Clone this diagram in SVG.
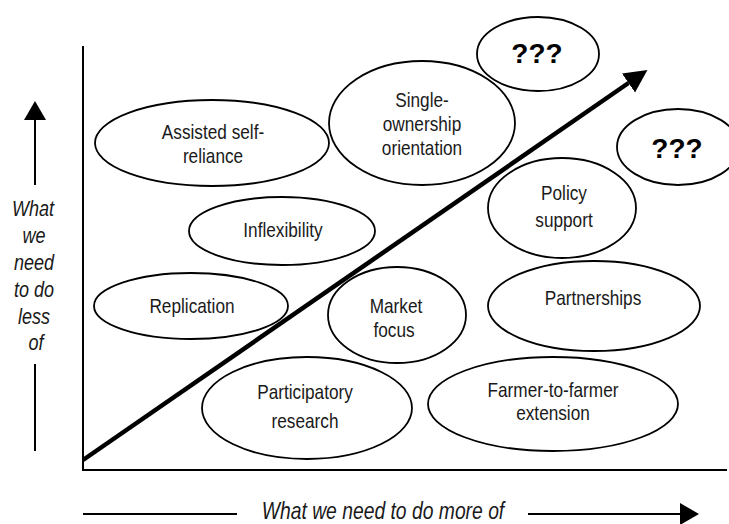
<svg xmlns="http://www.w3.org/2000/svg" width="729" height="524" viewBox="0 0 729 524">
  <style>
    .node ellipse { fill: #ffffff; stroke: #000000; stroke-width: 1.8; }
    .lbl { font-family: "Liberation Sans", Arial, sans-serif; font-size: 21px; fill: #1a1a1a; text-anchor: middle; }
    .q { font-family: "Liberation Sans", Arial, sans-serif; font-size: 28px; font-weight: bold; fill: #000000; text-anchor: middle; }
    .axis-lbl { font-family: "Liberation Sans", Arial, sans-serif; font-style: italic; fill: #1a1a1a; text-anchor: middle; }
    .axis { stroke: #000000; stroke-width: 2; fill: none; }
    .guide { stroke: #000000; stroke-width: 2; fill: none; }
    .trend { stroke: #000000; stroke-width: 4.5; fill: none; }
  </style>
  <defs>
    <marker id="headSmall" markerUnits="userSpaceOnUse" markerWidth="20" markerHeight="22" refX="0" refY="11" orient="auto">
      <path d="M0,0 L19,11 L0,22 z" fill="#000000"/>
    </marker>
    <marker id="headLarge" markerUnits="userSpaceOnUse" markerWidth="24" markerHeight="24" refX="0" refY="12" orient="auto">
      <path d="M0,0.5 L23,12 L0,23.5 z" fill="#000000"/>
    </marker>
  </defs>

  <rect width="729" height="524" fill="#ffffff"/>

  <!-- nodes (labels use a horizontally condensed sans) -->
  <g id="assisted-self-reliance" class="node">
    <ellipse cx="212" cy="143" rx="117" ry="43"/>
    <text class="lbl" transform="translate(213 139) scale(0.82 1)">Assisted self-</text>
    <text class="lbl" transform="translate(213 163) scale(0.82 1)">reliance</text>
  </g>
  <g id="inflexibility" class="node">
    <ellipse cx="282" cy="231" rx="93" ry="34"/>
    <text class="lbl" transform="translate(283 237) scale(0.82 1)">Inflexibility</text>
  </g>
  <g id="single-ownership" class="node">
    <ellipse cx="422" cy="123" rx="93" ry="62"/>
    <text class="lbl" transform="translate(422 107) scale(0.82 1)">Single-</text>
    <text class="lbl" transform="translate(422 131) scale(0.82 1)">ownership</text>
    <text class="lbl" transform="translate(422 155) scale(0.82 1)">orientation</text>
  </g>
  <g id="unknown-top" class="node">
    <ellipse cx="538" cy="54" rx="61" ry="37"/>
    <text class="q" x="537" y="63">???</text>
  </g>
  <g id="unknown-right" class="node">
    <ellipse cx="678" cy="147" rx="61" ry="38"/>
    <text class="q" x="677" y="158">???</text>
  </g>
  <g id="policy-support" class="node">
    <ellipse cx="562" cy="208" rx="74" ry="50"/>
    <text class="lbl" transform="translate(564 200) scale(0.82 1)">Policy</text>
    <text class="lbl" transform="translate(564 227) scale(0.82 1)">support</text>
  </g>
  <g id="replication" class="node">
    <ellipse cx="191" cy="306" rx="97" ry="33"/>
    <text class="lbl" transform="translate(192 313) scale(0.82 1)">Replication</text>
  </g>
  <g id="market-focus" class="node">
    <ellipse cx="397" cy="315" rx="69" ry="48"/>
    <text class="lbl" transform="translate(396 313) scale(0.82 1)">Market</text>
    <text class="lbl" transform="translate(394 337) scale(0.82 1)">focus</text>
  </g>
  <g id="partnerships" class="node">
    <ellipse cx="594" cy="306" rx="106" ry="45"/>
    <text class="lbl" transform="translate(593 305) scale(0.82 1)">Partnerships</text>
  </g>
  <g id="participatory-research" class="node">
    <ellipse cx="307" cy="408" rx="105" ry="51"/>
    <text class="lbl" transform="translate(305 399) scale(0.82 1)">Participatory</text>
    <text class="lbl" transform="translate(305 428) scale(0.82 1)">research</text>
  </g>
  <g id="farmer-to-farmer" class="node">
    <ellipse cx="553" cy="404" rx="125" ry="47"/>
    <text class="lbl" transform="translate(553 397) scale(0.82 1)">Farmer-to-farmer</text>
    <text class="lbl" transform="translate(553 420) scale(0.82 1)">extension</text>
  </g>

  <!-- connectors: axes, trend arrow and axis direction arrows -->
  <g id="connectors">
    <polyline class="axis" points="83,46 83,470 727,470"/>
    <line class="trend" x1="83" y1="460" x2="628.5" y2="83" marker-end="url(#headLarge)"/>
    <line class="guide" x1="35" y1="185" x2="35" y2="120" marker-end="url(#headSmall)"/>
    <line class="guide" x1="35" y1="364" x2="35" y2="451"/>
    <line class="guide" x1="83" y1="514" x2="237" y2="514"/>
    <line class="guide" x1="528" y1="514" x2="680" y2="514" marker-end="url(#headSmall)"/>
  </g>

  <!-- axis captions -->
  <g id="axis-labels">
    <g class="axis-lbl" font-size="22">
      <text transform="translate(33 216) scale(0.82 1)">What</text>
      <text transform="translate(34 243) scale(0.82 1)">we</text>
      <text transform="translate(34 270) scale(0.82 1)">need</text>
      <text transform="translate(34 297) scale(0.82 1)">to do</text>
      <text transform="translate(34 324) scale(0.82 1)">less</text>
      <text transform="translate(36 350) scale(0.82 1)">of</text>
    </g>
    <text class="axis-lbl" font-size="23" transform="translate(383 519) scale(0.84 1)">What we need to do more of</text>
  </g>
</svg>
